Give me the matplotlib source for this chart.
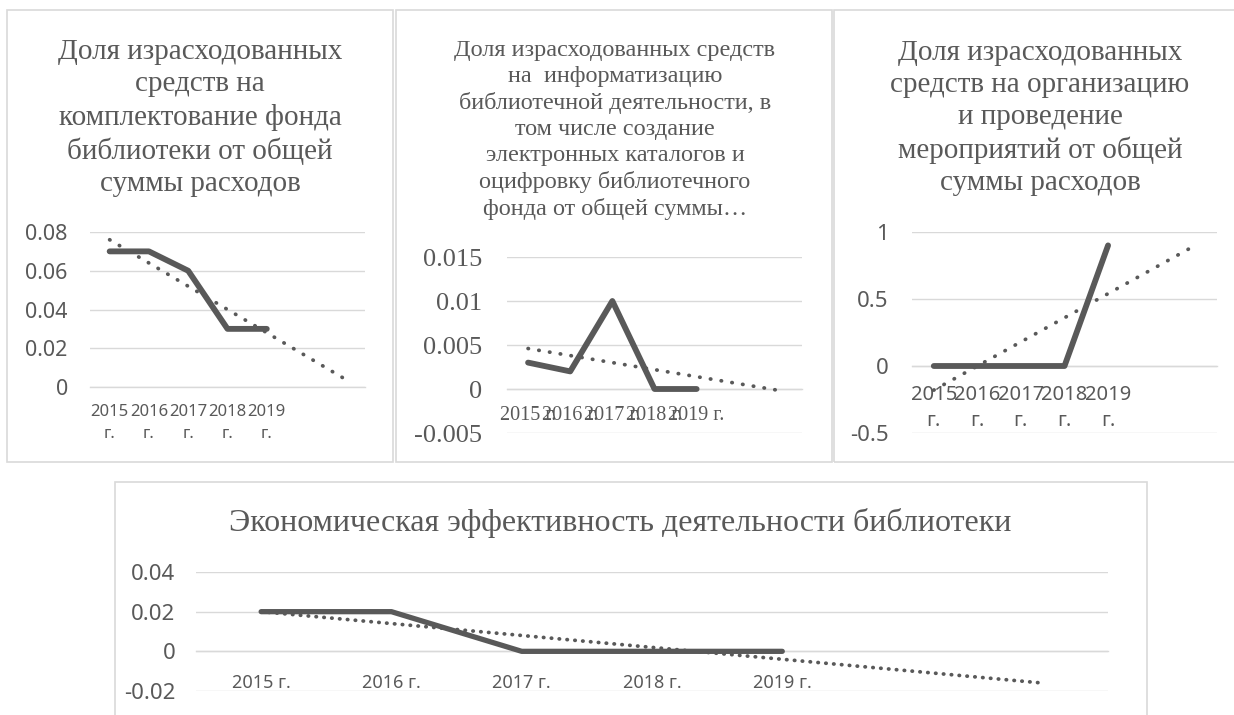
import numpy as np
import matplotlib
matplotlib.use("Agg")
import matplotlib.pyplot as plt
from matplotlib.patches import Rectangle
from matplotlib.ticker import FuncFormatter

# library budget indicators, 2015-2019
years = ["2015 г.", "2016 г.", "2017 г.", "2018 г.", "2019 г."]
fund_share = [0.07, 0.07, 0.06, 0.03, 0.03]
it_share = [0.003, 0.002, 0.01, 0.0, 0.0]
events_share = [0.0, 0.0, 0.0, 0.0, 0.9]
efficiency = [0.02, 0.02, 0.0, 0.0, 0.0]

title_fund = "Доля израсходованных\nсредств на\nкомплектование фонда\nбиблиотеки от общей\nсуммы расходов"
title_it = ("Доля израсходованных средств\nна  информатизацию\nбиблиотечной деятельности, в\n"
            "том числе создание\nэлектронных каталогов и\nоцифровку библиотечного\nфонда от общей суммы…")
title_events = "Доля израсходованных\nсредств на организацию\nи проведение\nмероприятий от общей\nсуммы расходов"
title_eff = "Экономическая эффективность деятельности библиотеки"

TEXT = "#595959"
LINE = "#595959"
GRID = "#d9d9d9"
SERIF = "Liberation Serif"
SANS = "Noto Sans"

W, H = 1234, 715
FORECAST = 2  # trend line extended two periods forward

fig = plt.figure(figsize=(W / 100, H / 100), dpi=100)


def box(l, t, r, b):
    return [l / W, 1 - b / H, (r - l) / W, (b - t) / H]


def frame(l, t, r, b):
    fig.patches.append(Rectangle((l / W, 1 - b / H), (r - l) / W, (b - t) / H,
                                 transform=fig.transFigure, fill=False,
                                 edgecolor=GRID, lw=1.2))


def title(x, y, text, size, ls=1.22):
    fig.text(x / W, 1 - y / H, text, ha="center", va="center", multialignment="center",
             family=SERIF, fontsize=size, color=TEXT, linespacing=ls)


def panel(rect, values, ylim, yticks, xlabels, yfont, yfs, xfont, xfs,
          ypad, xpad, lw=4.2, dots=(0.1, 2.6), xls=1.2):
    ax = fig.add_axes(rect)
    # category axis crosses at zero; set before the labels, it rebuilds the ticks
    ax.spines["bottom"].set_position(("data", 0))
    ax.spines["bottom"].set_color(GRID)
    ax.spines["bottom"].set_linewidth(1.0)
    for side in ["top", "left", "right"]:
        ax.spines[side].set_visible(False)

    x = np.arange(len(values))
    ax.plot(x, values, color=LINE, lw=lw, solid_capstyle="round",
            solid_joinstyle="round", zorder=3)
    k, c = np.polyfit(x, values, 1)
    xt = np.arange(len(values) + FORECAST)
    ax.plot(xt, k * xt + c, color=LINE, lw=2.7, linestyle=(0, dots),
            dash_capstyle="round", zorder=4)
    ax.set_xlim(-0.5, len(values) + FORECAST - 0.5)
    ax.set_ylim(*ylim)

    ax.tick_params(axis="both", length=0)
    ax.tick_params(axis="y", pad=ypad)
    ax.tick_params(axis="x", pad=xpad)
    ax.set_yticks(yticks)
    ax.yaxis.set_major_formatter(FuncFormatter(lambda v, p: f"{v:g}"))
    ax.set_xticks(x)
    ax.set_xticklabels(xlabels, family=xfont, fontsize=xfs, color=TEXT, linespacing=xls)
    for lab in ax.get_yticklabels():
        lab.set_family(yfont)
        lab.set_fontsize(yfs)
        lab.set_color(TEXT)
    ax.grid(axis="y", color=GRID, lw=1.0)
    ax.set_axisbelow(True)
    ax.patch.set_visible(False)
    return ax


wrapped = [y.replace(" ", "\n") for y in years]

# top left: book fund acquisition
frame(7, 10, 393, 462)
title(200, 118, title_fund, 21, ls=1.3)
panel(box(90, 232, 365, 387), fund_share, (0, 0.08), [0, 0.02, 0.04, 0.06, 0.08],
      wrapped, SANS, 15.5, SANS, 12, 16, 12, dots=(0.1, 2.9), xls=1.5)

# top middle: informatization
frame(396, 10, 832, 462)
title(615, 130, title_it, 17.5, ls=1.3)
panel(box(507, 257, 802, 433), it_share, (-0.005, 0.015), [-0.005, 0, 0.005, 0.01, 0.015],
      years, SERIF, 19, SERIF, 14.5, 18, 12, dots=(0.1, 2.8))

# top right: events
frame(834, 10, 1240, 462)
title(1040, 118, title_events, 21, ls=1.3)
panel(box(912, 232, 1217, 433), events_share, (-0.5, 1), [-0.5, 0, 0.5, 1],
      wrapped, SANS, 16, SANS, 14.5, 17, 14, dots=(0.1, 3.0), xls=1.35)

# bottom: economic efficiency
frame(115, 482, 1147, 730)
title(620, 523, title_eff, 23)
panel(box(196, 572, 1108, 691), efficiency, (-0.02, 0.04), [-0.02, 0, 0.02, 0.04],
      years, SANS, 16, SANS, 13, 15, 16, lw=3.8, dots=(0.1, 2.0))

fig.savefig("out.png", dpi=100, facecolor="white")
